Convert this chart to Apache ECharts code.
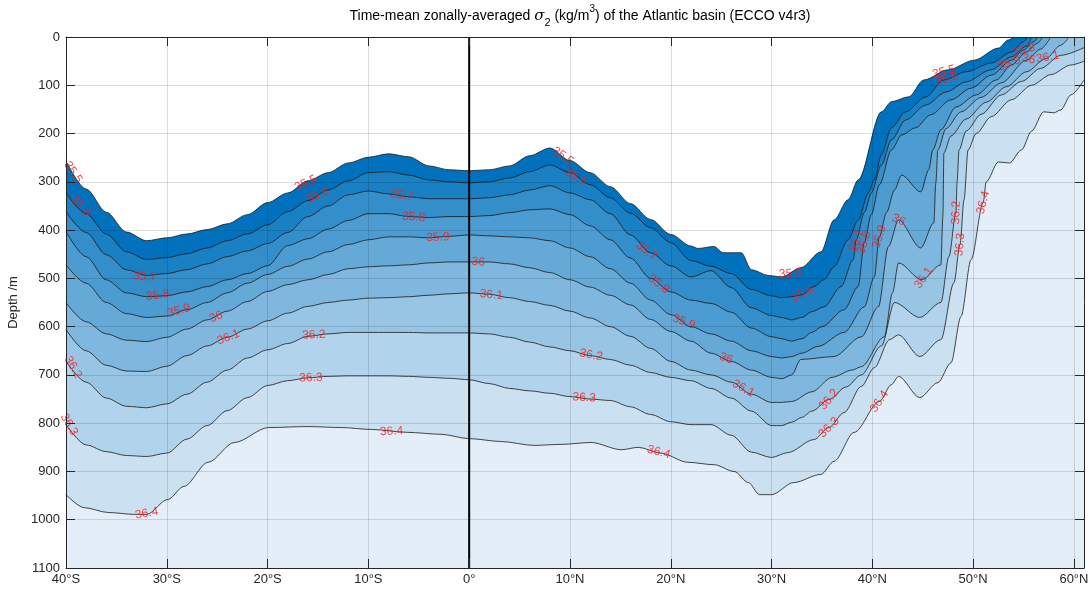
<!DOCTYPE html>
<html>
<head>
<meta charset="utf-8">
<title>sigma2 Atlantic</title>
<script src="https://cdn.jsdelivr.net/npm/echarts@6.0.0/dist/echarts.min.js"></script>
<style>
  html, body { margin: 0; padding: 0; background: #fff; }
  #chart-sigma { width: 1092px; height: 596px; }
</style>
</head>
<body>
<div id="chart-sigma"></div>
<script>
// contour levels of sigma2 (kg/m3)
var levels = [35.5, 35.6, 35.7, 35.8, 35.9, 36.0, 36.1, 36.2, 36.3, 36.4]

// depth (m) of each isopycnal against latitude (deg, S negative)
var c355 = [[-40,257],[-38,315],[-36,363],[-34,404],[-32,422],[-30,416],[-28,408],[-26,399],[-24,387],[-22,368],[-20,343],[-18,323],[-16,298],[-14,281],[-12,261],[-10,249],[-8,242],[-6,248],[-4,267],[-2,275],[0,277],[2,275],[4,267],[6,246],[8,230],[10,256],[12,281],[14,310],[16,345],[18,378],[20,409],[22,433],[22.7,438],[24.3,434],[25.2,447],[27,447],[28,482],[29.7,494],[31,497],[32.9,478],[34.9,445],[36.2,379],[37.6,337],[38.6,296],[40.9,155],[41.9,134],[43.6,124],[45.1,89],[47.5,68],[50.1,48],[52.5,23],[53.5,6],[54.1,0],[61,0]]
var c356 = [[-40,323],[-38,366],[-36,408],[-34,445],[-32,461],[-30,457],[-28,449],[-26,437],[-24,422],[-22,408],[-20,389],[-18,362],[-16,339],[-14,317],[-12,298],[-10,281],[-8,279],[-6,286],[-4,296],[-2,300],[0,302],[2,300],[4,292],[6,279],[8,265],[10,281],[12,306],[14,333],[16,365],[18,395],[20,426],[22,463],[24,475],[26,490],[28,523],[30,536],[31,540],[32,538],[33,534],[34.2,517],[35.2,503],[36.2,476],[37.6,420],[38.6,379],[39.6,323],[40.2,296],[40.9,244],[41.9,188],[43.3,155],[45.3,124],[47.1,89],[49.3,72],[51.8,54],[53.8,31],[55,10],[55.4,0],[61,0]]
var c357 = [[-40,362],[-38,405],[-36,451],[-34,482],[-32,494],[-30,490],[-28,482],[-26,470],[-24,455],[-22,443],[-20,428],[-18,405],[-16,372],[-14,350],[-12,327],[-10,319],[-8,325],[-6,331],[-4,335],[-2,335],[0,335],[2,333],[4,327],[6,317],[8,308],[10,323],[12,337],[14,366],[16,410],[18,447],[20,474],[22,497],[24,484],[26,519],[28,561],[30,577],[31,581],[32,586],[33,581],[34,569],[35.2,559],[36.9,517],[38.1,461],[38.4,420],[39.2,364],[39.9,323],[40.9,265],[41.9,213],[43.3,172],[45.3,141],[47.3,114],[49.3,93],[51.8,68],[53.8,41],[55.3,19],[55.8,0],[61,0]]
var c358 = [[-40,403],[-38,455],[-36,503],[-34,530],[-32,538],[-30,536],[-28,528],[-26,517],[-24,503],[-22,490],[-20,474],[-18,432],[-16,418],[-14,398],[-12,380],[-10,366],[-8,366],[-6,372],[-4,374],[-2,372],[0,372],[2,370],[4,364],[6,358],[8,356],[10,368],[12,391],[14,420],[16,458],[18,500],[20,528],[22,545],[24,552],[26,570],[28,603],[30,621],[31,625],[32,630],[33,625],[34,612],[35,600],[37.2,565],[38.6,517],[39.2,426],[39.9,368],[40.7,306],[41.9,234],[42.9,203],[44.3,188],[45.8,161],[47.8,130],[49.8,106],[51.8,79],[53.8,48],[55,27],[56,10],[56.4,0],[61,0]]
var c359 = [[-40,472],[-38,510],[-36,550],[-34,573],[-32,581],[-30,578],[-28,565],[-26,550],[-24,530],[-22,510],[-20,492],[-18,475],[-16,460],[-14,445],[-12,430],[-10,420],[-8,414],[-6,414],[-4,416],[-2,413],[0,410],[2,412],[4,414],[6,416],[8,422],[10,437],[12,455],[14,480],[16,510],[18,545],[20,575],[22,600],[24,615],[26,630],[28,650],[30,662],[31,665],[32,662],[33,655],[34.6,641],[37.2,612],[39.2,559],[40.2,497],[40.7,414],[41.4,364],[42.2,317],[42.9,286],[44.8,321],[45.6,275],[46,234],[46.8,192],[48.3,145],[50.3,120],[52.3,89],[53.8,58],[55.3,31],[56.3,14],[56.9,0],[61,0]]
var c360 = [[-40,550],[-38,590],[-36,615],[-34,628],[-32,631],[-30,622],[-28,605],[-26,586],[-24,568],[-22,548],[-20,527],[-18,513],[-16,503],[-14,492],[-12,480],[-10,476],[-8,474],[-6,472],[-4,468],[-2,466],[0,466],[2,466],[4,470],[6,478],[8,488],[10,503],[12,518],[14,535],[16,555],[18,585],[20,610],[22,630],[24,655],[26,672],[28,690],[30,705],[31,708],[32,700],[32.9,668],[36.2,662],[38.9,621],[40.6,559],[41.6,434],[42.6,379],[44.8,437],[46.1,385],[46.3,302],[46.5,234],[47.3,190],[48.8,155],[50.8,125],[52.8,95],[55.3,48],[56.7,25],[57.7,0],[61,0]]
var c361 = [[-40,606],[-38,650],[-36,680],[-34,692],[-32,693],[-30,682],[-28,660],[-26,640],[-24,622],[-22,605],[-20,588],[-18,572],[-16,558],[-14,550],[-12,545],[-10,541],[-8,540],[-6,538],[-4,535],[-2,532],[0,530],[2,533],[4,540],[6,548],[8,556],[10,568],[12,582],[14,600],[16,620],[18,645],[20,672],[22,690],[24,700],[26,715],[28,740],[30,757],[31,757],[32,755],[34,735],[36,705],[38,690],[38.9,683],[41.2,621],[42,530],[42.6,468],[44.9,503],[46.8,472],[47,372],[47.1,240],[47.8,205],[49.3,170],[51.3,135],[53.3,103],[55.3,72],[57.2,45],[58.7,17],[59.5,0],[61,0]]
var c362 = [[-40,672],[-38,715],[-36,748],[-34,765],[-32,768],[-30,760],[-28,740],[-26,715],[-24,690],[-22,665],[-20,648],[-18,635],[-16,620],[-14,615],[-12,612],[-10,612],[-8,612],[-6,612],[-4,613],[-2,613],[0,613],[2,615],[4,622],[6,632],[8,642],[10,650],[12,660],[14,668],[16,680],[18,695],[20,705],[22,712],[24,728],[26,748],[28,775],[30,805],[31,805],[32,798],[33,788],[34,775],[35.7,751],[37.4,725],[38.9,700],[40.9,640],[42.2,550],[44.7,581],[46.8,550],[47.6,455],[48.3,364],[48.4,302],[48.6,234],[49.3,195],[50.8,160],[52.8,120],[54.8,92],[56.7,65],[58.7,38],[61,22]]
var c363 = [[-40,803],[-38,845],[-36,859],[-34,867],[-32,869],[-30,862],[-28,833],[-26,805],[-24,774],[-22,747],[-20,722],[-18,712],[-16,706],[-14,703],[-12,702],[-10,702],[-8,702],[-6,703],[-4,705],[-2,707],[0,710],[2,718],[4,728],[6,733],[8,738],[10,745],[12,750],[14,753],[16,766],[18,782],[20,797],[22,803],[24,803],[26,825],[28,860],[30,871],[31.6,861],[34.2,834],[35.7,809],[37.2,778],[38.9,724],[40.2,685],[41.7,627],[42.6,617],[44.7,662],[46.8,627],[48.1,509],[48.7,430],[49.1,337],[49.5,234],[50.3,200],[51.8,165],[53.8,130],[55.8,100],[57.7,78],[59.7,58],[61,50]]
var c364 = [[-40,948],[-38.2,975],[-35.8,985],[-33.2,989],[-32,989],[-29.9,958],[-28.3,931],[-25.9,881],[-23.3,840],[-19.9,809],[-16,807],[-12.7,809],[-9.7,813],[-6.1,819],[-2.8,823],[0,832],[3.2,838],[6.4,846],[9.1,844],[12.1,840],[15.1,855],[16.8,850],[19,862],[21.7,881],[24.3,886],[26.3,900],[27.7,923],[28.8,948],[30,948],[32.2,923],[34.9,906],[36.2,879],[38.2,819],[40.7,755],[41.9,720],[42.6,703],[44.7,747],[46.5,716],[47.8,675],[48.8,579],[49.8,461],[51,343],[51.3,300],[52.5,259],[53.6,261],[54.8,234],[55.8,195],[57,155],[58,157],[58.7,151],[59.7,120],[61,89]]

var contours = [c355, c356, c357, c358, c359, c360, c361, c362, c363, c364]

// contour labels: [lat, depth, text]
var labels = [
  [-39.3,280,'35.5'],[-38.5,350,'35.6'],[-32.2,497,'35.7'],[-30.9,535,'35.8'],[-28.8,567,'35.9'],
  [-25.1,580,'36'],[-23.9,622,'36.1'],[-39.3,684,'36.2'],[-39.7,803,'36.3'],[-32,987,'36.4'],
  [-16.2,303,'35.5'],[-15,329,'35.6'],[-15.4,617,'36.2'],[-15.7,706,'36.3'],
  [-6.7,328,'35.7'],[-5.5,373,'35.8'],[-3.1,415,'35.9'],[0.9,466,'36'],[2.2,534,'36.1'],[-7.7,817,'36.4'],
  [9.3,247,'35.5'],[10.6,290,'35.6'],[17.6,443,'35.7'],[18.8,512,'35.8'],[21.3,590,'35.9'],
  [25.5,666,'36'],[27.2,728,'36.1'],[12.1,659,'36.2'],[11.4,747,'36.3'],[18.8,860,'36.4'],
  [31.9,490,'35.5'],[33.1,532,'35.6'],[38.4,422,'35.7'],[39.2,426,'35.8'],[40.7,414,'35.9'],
  [42.6,379,'36'],[45.1,499,'36.1'],[48.3,364,'36.2'],[48.7,430,'36.3'],[51,343,'36.4'],
  [35.7,751,'36.2'],[35.7,809,'36.3'],[40.7,755,'36.4'],
  [47.1,72,'35.5'],[47.4,87,'35.6'],[55,27,'35.8'],[53.6,55,'35.9'],[55.5,46,'36'],[57.4,42,'36.1']
]
var labelAngle = [
  -55,-50,-5,8,15,
  20,22,-60,-60,10,
  25,22,3,2,
  -8,-3,3,-5,-5,3,
  -35,-30,-38,-38,-20,
  -20,-30,-10,-3,-15,
  5,28,70,72,72,
  -25,55,88,85,75,
  50,45,55,
  15,15,15,20,-10,10
]

var bandColors = ['#0072bd', '#1980c4', '#338eca', '#4c9bd1', '#65a9d7',
                  '#7fb7de', '#98c5e4', '#b1d3eb', '#cbe0f1', '#e4eef8']

var fontName = 'Liberation Sans, Arial, Helvetica, sans-serif'
var axisColor = '#262626'

// drawn line stops where the isopycnal reaches the surface
var lineData = function (c) {
  var i = c.findIndex(function (p) { return p[1] === 0 })
  return i < 0 ? c : c.slice(0, i + 1)
}

var latLabel = function (v) {
  if (v > 60) return ''
  if (v === 0) return '0°'
  return v < 0 ? (-v) + '°S' : v + '°N'
}

var series = []
contours.forEach(function (c, i) {
  series.push({
    name: 'fill ' + levels[i],
    type: 'line',
    data: c,
    smooth: 0.3,
    smoothMonotone: 'x',
    symbol: 'none',
    silent: true,
    lineStyle: { width: 0 },
    areaStyle: { color: bandColors[i], opacity: 1, origin: 'end' },
    z: 2
  })
})
contours.forEach(function (c, i) {
  series.push({
    name: 'line ' + levels[i],
    type: 'line',
    data: lineData(c),
    smooth: 0.3,
    smoothMonotone: 'x',
    symbol: 'none',
    silent: true,
    lineStyle: { color: '#1a1a1a', width: 0.8 },
    z: 3
  })
})
// equator
series.push({
  type: 'line',
  data: [[0, 0], [0, 1100]],
  symbol: 'none',
  silent: true,
  lineStyle: { color: '#000', width: 2 },
  z: 4
})
// contour labels
series.push({
  type: 'scatter',
  symbolSize: 1,
  itemStyle: { color: 'transparent' },
  silent: true,
  z: 5,
  label: {
    show: true,
    position: 'inside',
    formatter: '{b}',
    color: '#ff1a1a',
    fontSize: 12,
    fontFamily: fontName
  },
  data: labels.map(function (l, i) {
    return { name: l[2], value: [l[0], l[1]], label: { rotate: labelAngle[i] } }
  })
})

var myChart = echarts.init(document.getElementById('chart-sigma'))

var option = {
  animation: false,
  backgroundColor: '#fff',
  title: {
    text: 'Time-mean zonally-averaged {s|σ}{sub|2} (kg/m{sup|3}) of the Atlantic basin (ECCO v4r3)',
    left: 575,
    top: -1,
    textAlign: 'center',
    textStyle: {
      color: '#000',
      fontSize: 14,
      fontWeight: 'normal',
      fontFamily: fontName,
      lineHeight: 24,
      rich: {
        s: { fontSize: 15, fontStyle: 'italic', fontFamily: 'DejaVu Serif, serif', lineHeight: 24 },
        sub: { fontSize: 11, verticalAlign: 'bottom', lineHeight: 24 },
        sup: { fontSize: 10, verticalAlign: 'top', lineHeight: 24 }
      }
    }
  },
  grid: { left: 66, right: 8, top: 37, bottom: 28, containLabel: false, outerBoundsMode: 'none' },
  xAxis: [
    {
      type: 'value',
      min: -40,
      max: 61,
      interval: 10,
      position: 'bottom',
      z: 10,
      axisLine: { show: true, onZero: false, lineStyle: { color: axisColor, width: 1 } },
      axisTick: { show: true, inside: true, length: 9, lineStyle: { color: axisColor } },
      axisLabel: { color: axisColor, fontSize: 13, fontFamily: fontName, margin: 5, formatter: latLabel },
      splitLine: { show: true, lineStyle: { color: 'rgba(0,0,0,0.13)', width: 1 } }
    },
    {
      type: 'value',
      min: -40,
      max: 61,
      interval: 10,
      position: 'top',
      z: 10,
      axisLine: { show: true, onZero: false, lineStyle: { color: axisColor, width: 1 } },
      axisTick: { show: true, inside: true, length: 9, lineStyle: { color: axisColor } },
      axisLabel: { show: false },
      splitLine: { show: false }
    }
  ],
  yAxis: [
    {
      type: 'value',
      min: 0,
      max: 1100,
      interval: 100,
      inverse: true,
      position: 'left',
      z: 10,
      name: 'Depth /m',
      nameLocation: 'middle',
      nameGap: 39,
      nameRotate: 90,
      nameTextStyle: { color: axisColor, fontSize: 13, fontFamily: fontName },
      axisLine: { show: true, onZero: false, lineStyle: { color: axisColor, width: 1 } },
      axisTick: { show: true, inside: true, length: 9, lineStyle: { color: axisColor } },
      axisLabel: {
        color: axisColor, fontSize: 13, fontFamily: fontName, margin: 6,
        formatter: function (v) { return String(v) }
      },
      splitLine: { show: true, lineStyle: { color: 'rgba(0,0,0,0.13)', width: 1 } }
    },
    {
      type: 'value',
      min: 0,
      max: 1100,
      interval: 100,
      inverse: true,
      position: 'right',
      z: 10,
      axisLine: { show: true, onZero: false, lineStyle: { color: axisColor, width: 1 } },
      axisTick: { show: true, inside: true, length: 9, lineStyle: { color: axisColor } },
      axisLabel: { show: false },
      splitLine: { show: false }
    }
  ],
  series: series
}

myChart.setOption(option)
</script>
</body>
</html>
